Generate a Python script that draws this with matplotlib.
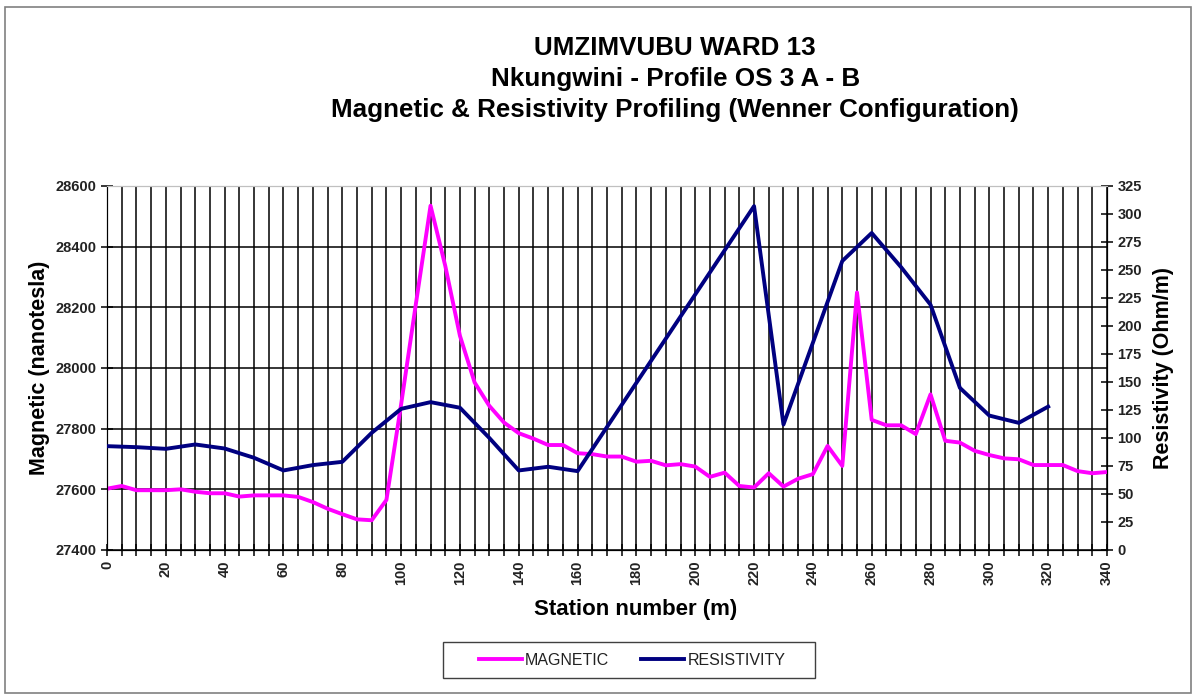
import matplotlib.pyplot as plt
from matplotlib.ticker import MultipleLocator
from matplotlib.patches import Rectangle

plt.rcParams['font.family'] = ['Liberation Sans', 'DejaVu Sans']

# magnetic readings every 5 m
mag_station = list(range(0, 345, 5))
magnetic = [27602, 27611, 27597, 27597, 27597, 27600, 27592, 27587, 27587, 27576,
            27580, 27580, 27580, 27575, 27558, 27536, 27518, 27501, 27498, 27565,
            27880, 28210, 28535, 28337, 28106, 27952, 27875, 27820, 27785, 27767,
            27746, 27746, 27719, 27716, 27708, 27708, 27691, 27694, 27679, 27683,
            27675, 27641, 27655, 27611, 27606, 27653, 27609, 27635, 27650, 27743,
            27677, 28249, 27829, 27811, 27811, 27782, 27913, 27760, 27754, 27727,
            27713, 27702, 27699, 27680, 27680, 27680, 27660, 27653, 27657]

# resistivity readings (Wenner)
res_station = [0, 10, 20, 30, 40, 50, 60, 70, 80, 90, 100, 110, 120, 130, 140, 150,
               160, 220, 230, 250, 260, 270, 280, 290, 300, 310, 320]
resistivity = [92.7, 91.8, 90.3, 94.2, 90.6, 82.3, 71.0, 75.8, 78.7, 104.6, 126.0,
               132.0, 127.0, 100.0, 71.0, 74.3, 70.4, 307.0, 112.0, 258.0, 283.0,
               252.5, 219.0, 144.7, 120.0, 113.5, 128.0]

fig = plt.figure(figsize=(11.97, 6.96), dpi=100)
fig.patches.append(Rectangle((0.004, 0.004), 0.991, 0.986, transform=fig.transFigure,
                             fill=False, edgecolor='#808080', linewidth=1.2))

ax = fig.add_axes([0.0894, 0.2098, 0.8354, 0.523])
ax2 = ax.twinx()

l1, = ax.plot(mag_station, magnetic, color='#FF00FF', linewidth=2.8, label='MAGNETIC', zorder=3)
l2, = ax2.plot(res_station, resistivity, color='#000080', linewidth=2.8, label='RESISTIVITY', zorder=3)

ax.set_xlim(0, 340)
ax.set_ylim(27400, 28600)
ax2.set_ylim(0, 325)

ax.xaxis.set_major_locator(MultipleLocator(20))
ax.xaxis.set_minor_locator(MultipleLocator(5))
ax.yaxis.set_major_locator(MultipleLocator(200))
ax2.yaxis.set_major_locator(MultipleLocator(25))

ax.grid(True, which='both', axis='x', color='black', linewidth=1.1)
ax.grid(True, which='major', axis='y', color='black', linewidth=1.1)
ax.set_axisbelow(True)

ax.tick_params(axis='x', which='both', direction='inout', length=8, width=1.1)
ax.tick_params(axis='y', direction='inout', length=8, width=1.1)
ax2.tick_params(axis='y', direction='inout', length=8, width=1.1)
ax.spines['top'].set_color('#c0c0c0')
ax2.spines['top'].set_color('#c0c0c0')

for lab in ax.get_xticklabels():
    lab.set_rotation(90)
for lab in ax.get_xticklabels() + ax.get_yticklabels() + ax2.get_yticklabels():
    lab.set_fontweight('bold')
    lab.set_fontsize(10.5)
    lab.set_color('#222222')

ax.set_xlabel('Station number (m)', fontsize=16, fontweight='bold')
ax.xaxis.set_label_coords(0.529, -0.135)
ax.set_ylabel('Magnetic (nanotesla)', fontsize=15.5, fontweight='bold', labelpad=4)
ax2.set_ylabel('Resistivity (Ohm/m)', fontsize=15.5, fontweight='bold', rotation=90, labelpad=8)

title_lines = ['UMZIMVUBU WARD 13', 'Nkungwini - Profile OS 3 A - B',
               'Magnetic & Resistivity Profiling (Wenner Configuration)']
for i, line in enumerate(title_lines):
    fig.text(0.564, 0.931 - i * 0.0445, line, ha='center', va='center',
             fontsize=18.7, fontweight='bold')

# legend box drawn separately so the padding inside it can be wider
fig.patches.append(Rectangle((443 / 1197, 18 / 696), 372 / 1197, 36 / 696,
                             transform=fig.transFigure, fill=False,
                             edgecolor='#404040', linewidth=1.0))
leg = fig.legend(handles=[l1, l2], loc='center', bbox_to_anchor=(0.528, 0.0515), ncol=2,
                 frameon=False, fontsize=11.5, handlelength=2.7,
                 handletextpad=0.2, columnspacing=2.0)
for t in leg.get_texts():
    t.set_color('#222222')

fig.savefig('out.png', dpi=100)
